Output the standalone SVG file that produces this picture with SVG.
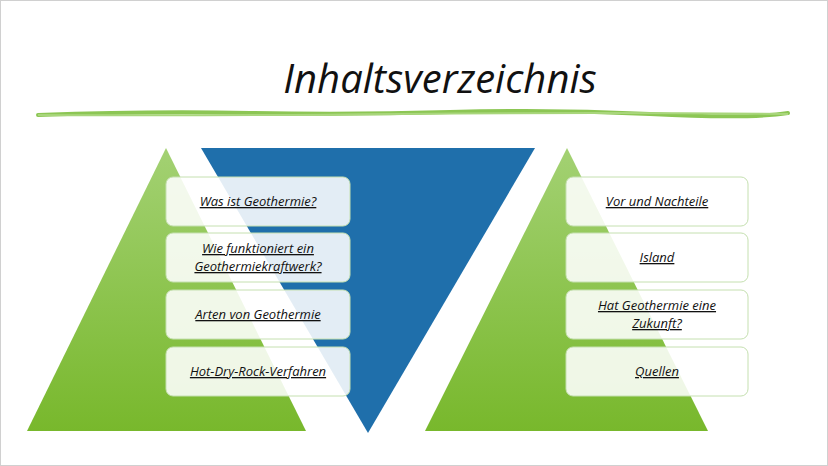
<svg xmlns="http://www.w3.org/2000/svg" width="828" height="466" viewBox="0 0 828 466">
<defs>
<linearGradient id="g" x1="0" y1="0" x2="0" y2="1"><stop offset="0" stop-color="#a3d173"/><stop offset="1" stop-color="#78b82c"/></linearGradient>
<style>
.box{fill:#ffffff;fill-opacity:0.88;stroke:#c5e0b0;stroke-width:1}
.t{font-family:"Open Sans","Liberation Sans",sans-serif;font-style:italic;font-size:13px;fill:#111;text-anchor:middle;text-decoration:underline}
</style>
</defs>
<rect x="0.5" y="0.5" width="827" height="465" fill="#fff" stroke="#d0d0d0"/>
<text x="440" y="93" font-family="'Open Sans','Liberation Sans',sans-serif" font-style="italic" font-size="40" fill="#111" text-anchor="middle">Inhaltsverzeichnis</text>
<path d="M38 115 Q150 111 250 113 T450 112 T650 114 T788 113" stroke="#8cc654" stroke-width="4" fill="none" stroke-linecap="round"/>
<path d="M38 115 Q200 116 400 114 T788 114" stroke="#a9d67c" stroke-width="2" fill="none"/>
<polygon points="166,148 306,431 27,431" fill="url(#g)"/>
<polygon points="201,148 535,148 368,433" fill="#1f6fab"/>
<polygon points="567,148 708,431 425,431" fill="url(#g)"/>
<g id="n1"><rect class="box" x="166" y="177" width="184" height="49" rx="7"/><text class="t" x="258" y="206">Was ist Geothermie?</text></g>
<g id="n2"><rect class="box" x="166" y="233" width="184" height="49" rx="7"/><text class="t" x="258" y="253">Wie funktioniert ein</text><text class="t" x="258" y="271">Geothermiekraftwerk?</text></g>
<g id="n3"><rect class="box" x="166" y="290" width="184" height="49" rx="7"/><text class="t" x="258" y="319">Arten von Geothermie</text></g>
<g id="n4"><rect class="box" x="166" y="347" width="184" height="49" rx="7"/><text class="t" x="258" y="376">Hot-Dry-Rock-Verfahren</text></g>
<g id="n5"><rect class="box" x="566" y="177" width="182" height="49" rx="7"/><text class="t" x="657" y="206">Vor und Nachteile </text></g>
<g id="n6"><rect class="box" x="566" y="233" width="182" height="49" rx="7"/><text class="t" x="657" y="262">Island</text></g>
<g id="n7"><rect class="box" x="566" y="290" width="182" height="49" rx="7"/><text class="t" x="657" y="310">Hat Geothermie eine</text><text class="t" x="657" y="328">Zukunft?</text></g>
<g id="n8"><rect class="box" x="566" y="347" width="182" height="49" rx="7"/><text class="t" x="657" y="376">Quellen</text></g>
<g id="connectors"></g>
</svg>
